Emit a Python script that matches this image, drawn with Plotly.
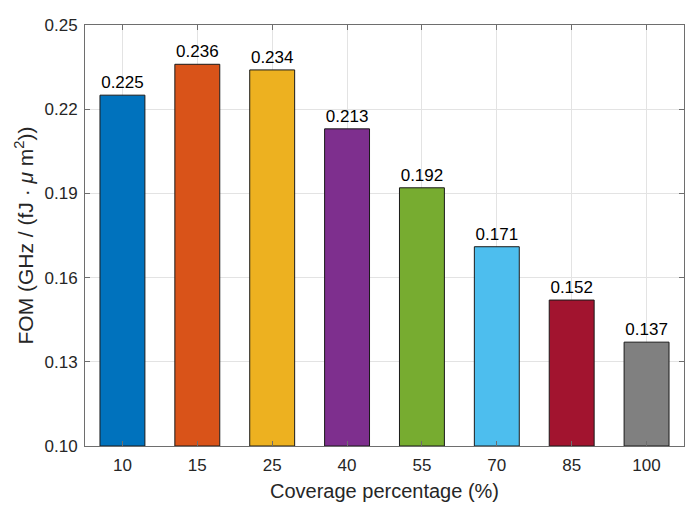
import plotly.graph_objects as go

categories = ["10", "15", "25", "40", "55", "70", "85", "100"]
fom_values = [0.225, 0.236, 0.234, 0.213, 0.192, 0.171, 0.152, 0.137]
bar_colors = ["#0072BD", "#D95319", "#EDB120", "#7E2F8E", "#77AC30", "#4DBEEE", "#A2142F", "#808080"]
y_ticks = [0.10, 0.13, 0.16, 0.19, 0.22, 0.25]
y_ticklabels = ["0.10", "0.13", "0.16", "0.19", "0.22", "0.25"]

FONT = "Liberation Sans, Arial, Helvetica"
tick_font = dict(family=FONT, size=17, color="#262626")
xtitle_font = dict(family=FONT, size=20, color="#262626")
ytitle_font = dict(family=FONT, size=21, color="#262626")

fig = go.Figure()
fig.add_trace(go.Bar(
    x=categories,
    y=[v - 0.10 for v in fom_values],
    base=0.10,
    width=0.6,
    marker=dict(color=bar_colors, line=dict(color="#1a1a1a", width=1)),
    text=[f"{v:.3f}" for v in fom_values],
    textposition="outside",
    textfont=dict(family=FONT, size=17, color="#000000"),
    cliponaxis=False,
    hoverinfo="skip",
))

fig.update_layout(
    width=699, height=513,
    margin=dict(l=85, r=15, t=25, b=67),
    paper_bgcolor="white", plot_bgcolor="white",
    showlegend=False,
    font=tick_font,
    uniformtext=dict(mode=False),
    xaxis=dict(
        type="category", range=[-0.5, 7.5],
        showline=True, mirror="ticks", linecolor="#6e6e6e", linewidth=1,
        ticks="inside", ticklen=5, tickcolor="#6e6e6e",
        showgrid=True, gridcolor="#e3e3e3", gridwidth=1,
        tickfont=tick_font, ticklabelstandoff=4,
        title=dict(text="Coverage percentage (%)", font=xtitle_font, standoff=9),
    ),
    yaxis=dict(
        range=[0.10, 0.25],
        tickvals=y_ticks, ticktext=y_ticklabels,
        showline=True, mirror="ticks", linecolor="#6e6e6e", linewidth=1,
        ticks="inside", ticklen=5, tickcolor="#6e6e6e",
        showgrid=True, gridcolor="#e3e3e3", gridwidth=1,
        zeroline=False,
        tickfont=tick_font, ticklabelstandoff=3,
        title=dict(text="FOM (GHz / (fJ · <i>μ</i> m<sup>2</sup>))", font=ytitle_font, standoff=5),
    ),
)

fig.write_html("out.html")
